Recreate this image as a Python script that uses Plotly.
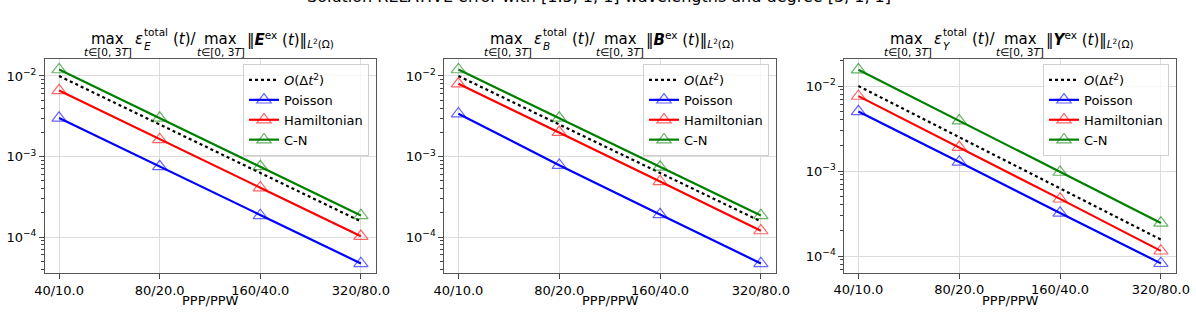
import plotly.graph_objects as go

# ---------------- data ----------------
categories = ["40/10.0", "80/20.0", "160/40.0", "320/80.0"]
ref_order2 = [1.0e-2, 2.5e-3, 6.25e-4, 1.5625e-4]

E_poisson = [3.0e-3, 7.5e-4, 1.85e-4, 4.7e-5]
E_hamiltonian = [6.6e-3, 1.63e-3, 4.1e-4, 1.02e-4]
E_cn = [1.2e-2, 3.0e-3, 7.5e-4, 1.85e-4]

B_poisson = [3.4e-3, 7.8e-4, 1.9e-4, 4.7e-5]
B_hamiltonian = [8.0e-3, 2.0e-3, 4.9e-4, 1.2e-4]
B_cn = [1.2e-2, 3.0e-3, 7.4e-4, 1.85e-4]

Y_poisson = [5.0e-3, 1.28e-3, 3.2e-4, 8.2e-5]
Y_hamiltonian = [7.6e-3, 1.9e-3, 4.7e-4, 1.15e-4]
Y_cn = [1.55e-2, 3.9e-3, 9.7e-4, 2.45e-4]

field_names = ["E", "B", "Y"]
series_labels = ["Poisson", "Hamiltonian", "C-N"]
ref_label = "<i>O</i>(Δ<i>t</i><sup>2</sup>)"
x_title = "PPP/PPW"
suptitle = "Solution RELATIVE error with [1.5, 1, 1] wavelengths and degree [3, 1, 1]"
y_tickvals = [1e-4, 1e-3, 1e-2]
y_ticktext = ["10<sup>−4</sup>", "10<sup>−3</sup>", "10<sup>−2</sup>"]

panels = [
    [E_poisson, E_hamiltonian, E_cn],
    [B_poisson, B_hamiltonian, B_cn],
    [Y_poisson, Y_hamiltonian, Y_cn],
]

# ---------------- layout / style ----------------
W, H = 1196, 316
FONT = "DejaVu Sans"
line_colors = ["#0000ff", "#ff0000", "#008000"]
marker_colors = ["rgba(0,0,255,0.6)", "rgba(255,0,0,0.6)", "rgba(0,128,0,0.6)"]

panel_px = [(45, 376), (444.3, 776), (844.3, 1176)]
y_px = [(59, 273), (59, 273), (59.3, 272.7)]
y_ranges = [(-4.447, -1.789), (-4.447, -1.789), (-4.196, -1.686)]

minor_vals = [m * 10.0 ** e for e in (-5, -4, -3, -2) for m in range(2, 10)]

fig = go.Figure()


def ann(text, px, py, anchor, size, yanchor="middle"):
    fig.add_annotation(text=text, x=px / W, y=1 - py / H, xref="paper", yref="paper",
                       xanchor=anchor, yanchor=yanchor, showarrow=False,
                       font=dict(family=FONT, size=size, color="black"))


for i, series in enumerate(panels):
    ax = "" if i == 0 else str(i + 1)
    xref, yref = "x" + ax, "y" + ax
    leg = "legend" if i == 0 else "legend" + str(i + 1)

    fig.add_trace(go.Scatter(
        x=categories, y=ref_order2, mode="lines", name=ref_label,
        line=dict(color="black", width=2.2, dash="dot"),
        xaxis=xref, yaxis=yref, legend=leg,
    ))
    for j, ys in enumerate(series):
        fig.add_trace(go.Scatter(
            x=categories, y=ys, mode="lines+markers", name=series_labels[j],
            line=dict(color=line_colors[j], width=2.2),
            marker=dict(symbol="triangle-up-open", size=12.5,
                        color=marker_colors[j],
                        line=dict(color=marker_colors[j], width=1.2)),
            xaxis=xref, yaxis=yref, legend=leg,
        ))

    x0, x1 = panel_px[i]
    yt, yb = y_px[i]
    fig.update_layout(**{
        "xaxis" + ax: dict(
            domain=[x0 / W, x1 / W], anchor=yref, type="category", automargin=False,
            range=[-0.14, 3.15], showgrid=True, gridcolor="#dcdcdc", gridwidth=1,
            ticks="outside", ticklen=5, tickcolor="#444",
            showline=True, linecolor="#555", linewidth=1, mirror=True,
            tickfont=dict(family=FONT, size=13, color="black"),
            zeroline=False,
        ),
        "yaxis" + ax: dict(
            domain=[1 - yb / H, 1 - yt / H], anchor=xref, type="log", automargin=False,
            range=list(y_ranges[i]), showgrid=True, gridcolor="#dcdcdc", gridwidth=1,
            tickvals=y_tickvals, ticktext=y_ticktext,
            ticks="outside", ticklen=5, tickcolor="#444",
            minor=dict(tickvals=minor_vals, ticks="outside", ticklen=3, tickcolor="#444", showgrid=False),
            showline=True, linecolor="#555", linewidth=1, mirror=True,
            tickfont=dict(family=FONT, size=13, color="black"),
            zeroline=False,
        ),
        leg: dict(
            x=(x1 - 7) / W, y=1 - 64 / H, xanchor="right", yanchor="top",
            xref="paper", yref="paper",
            bgcolor="rgba(255,255,255,0.8)", bordercolor="#d0d0d0", borderwidth=1,
            font=dict(family=FONT, size=13, color="black"),
            itemwidth=30, tracegroupgap=0,
        ),
    })

    # x axis title
    ann(x_title, (x0 + x1) / 2, 300, "center", 13)

    # subplot title assembled from pieces so that subscripts stack like mathtext
    nm = field_names[i]
    ann("max", x0 + 62.5, 39, "center", 15)
    ann("<i>ε</i>", x0 + 88, 39, "left", 15)
    ann("<i>%s</i>" % nm, x0 + 96.5, 46, "left", 10.5)
    ann("total", x0 + 96.5, 32, "left", 10.5)
    ann("(<i>t</i>)/", x0 + 126, 39, "left", 15)
    ann("max", x0 + 176, 39, "center", 15)
    ann("‖<b><i>%s</i></b><sup>ex</sup> (<i>t</i>)‖<sub><i>L</i><sup>2</sup>(Ω)</sub>" % nm,
        x0 + 200, 39, "left", 15)
    ann("<i>t</i>∈[0, 3<i>T</i>]", x0 + 63.3, 52, "center", 10.5)
    ann("<i>t</i>∈[0, 3<i>T</i>]", x0 + 176, 52, "center", 10.5)

ann(suptitle, 599, 8, "center", 16, yanchor="bottom")

fig.update_layout(
    width=W, height=H, margin=dict(l=0, r=0, t=0, b=0),
    paper_bgcolor="white", plot_bgcolor="white",
    font=dict(family=FONT, size=13, color="black"),
    showlegend=True,
)

fig.write_html("out.html", config={"displayModeBar": False},
               post_script="document.body.style.margin='0';")
